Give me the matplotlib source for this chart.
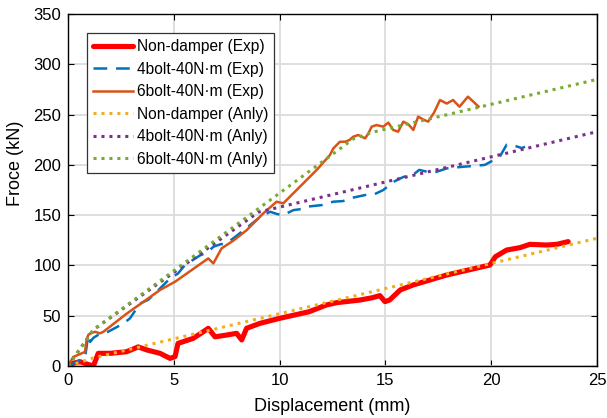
import matplotlib.pyplot as plt
import numpy as np

plt.rcParams["font.family"] = ["Liberation Sans", "DejaVu Sans"]

# ---- data ----
# Non-damper, experiment
nd_exp_x = [0, 0.3, 0.57, 0.88, 1.2, 1.43, 2.0, 2.77, 3.32, 3.72, 4.35, 4.82, 5.06, 5.2,
            5.92, 6.39, 6.63, 6.95, 7.5, 7.97, 8.21, 8.44, 9.07, 10.0, 11.4, 12.2, 12.7,
            13.8, 14.4, 14.74, 14.98, 15.2, 15.7, 16.3, 17.9, 19.94, 20.2, 20.73, 21.36,
            21.83, 22.62, 23.1, 23.64]
nd_exp_y = [1, 3, 4.3, 2, 0, 12.6, 12.6, 14.2, 19, 16, 12.6, 7.6, 9.3, 22.5,
            27.5, 34, 37.5, 29, 30.8, 32.5, 25.9, 37.5, 42.4, 47.4, 54, 60.6, 63,
            65.6, 68, 70, 64, 65.6, 75.6, 80.5, 90.5, 100.4, 108.7, 115.3, 117.7,
            121, 120.3, 121, 123.7]

# 4bolt-40N·m, experiment
b4_exp_x = [0, 0.3, 0.6, 0.8, 0.88, 0.95, 1.05, 1.2, 1.43, 1.8, 2.2, 2.6, 2.93, 3.4, 3.8,
            4.2, 4.82, 5.2, 5.53, 6.24, 6.6, 6.87, 7.2, 7.5, 8.0, 8.6, 9.07, 9.55, 9.9,
            10.17, 10.65, 11.0, 11.28, 11.99, 12.54, 13.0, 13.33, 14.04, 14.5, 14.9,
            15.37, 15.85, 16.3, 16.6, 17.0, 17.4, 17.9, 18.6, 19.2, 19.7, 20.4, 20.73,
            21.0, 21.2, 21.44, 21.6]
b4_exp_y = [0, 3, 6, 8, 19, 30, 24, 28, 31, 33, 37.5, 42, 47.4, 62, 66,
            74, 87, 92, 100.4, 110, 113, 118.6, 121, 122, 130, 140, 148, 153.4, 151,
            150, 155, 156, 158.4, 160, 163.4, 164, 166.8, 170, 171, 175,
            183, 188, 190, 195, 193, 193, 196.5, 198, 199, 200, 208, 220,
            219, 218.4, 216.7, 218]

# 6bolt-40N·m, experiment
b6_exp_x = [0, 0.25, 0.8, 0.88, 0.96, 1.12, 1.28, 1.51, 1.67, 2.77, 4.35, 5.06, 6.63,
            6.87, 7.26, 7.81, 8.44, 9.07, 9.23, 9.86, 10.17, 11.75, 12.38, 12.54,
            12.85, 13.09, 13.3, 13.48, 13.72, 14.04, 14.2, 14.35, 14.58, 14.9, 15.14,
            15.37, 15.6, 15.85, 16.1, 16.32, 16.55, 16.8, 17.02, 17.3, 17.58, 17.9,
            18.2, 18.5, 18.9, 19.15, 19.4]
b6_exp_y = [0, 9, 14, 26, 31, 33, 34, 32.5, 34, 52, 75.6, 83.8, 107,
            102, 117, 124.6, 135, 148.4, 151.8, 163.4, 161.7, 194.9, 209.8, 216.4,
            223, 223, 224.7, 228, 229.7, 226.4, 231.3, 238, 239.6, 238, 242,
            234.7, 233, 243, 240, 234.7, 248, 245, 243, 252, 264.5, 261,
            264.5, 257.8, 267.8, 263, 258]

# analytical models
nd_anl_x = [0, 1.2, 25]
nd_anl_y = [0, 8, 127]
b4_anl_x = [0, 1.2, 9.0, 25]
b4_anl_y = [0, 36, 153, 233]
b6_anl_x = [0, 1.2, 13.5, 14.5, 25]
b6_anl_y = [0, 36, 226, 233, 285]

x_ticks = [0, 5, 10, 15, 20, 25]
y_ticks = [0, 50, 100, 150, 200, 250, 300, 350]

# ---- figure ----
fig = plt.figure(figsize=(6.07, 4.18), dpi=100)
ax = fig.add_axes([0.112, 0.1244, 0.8715, 0.842])

ax.plot(nd_exp_x, nd_exp_y, color="#FF0000", lw=3.7, label="Non-damper (Exp)",
        solid_joinstyle="round", solid_capstyle="round")
ax.plot(b4_exp_x, b4_exp_y, color="#0072BD", lw=1.8, dashes=(5.5, 3.5),
        label="4bolt-40N·m (Exp)")
ax.plot(b6_exp_x, b6_exp_y, color="#D95319", lw=1.8, label="6bolt-40N·m (Exp)")
ax.plot(nd_anl_x, nd_anl_y, color="#EDB120", lw=2.2, dashes=(1, 1.6),
        label="Non-damper (Anly)")
ax.plot(b4_anl_x, b4_anl_y, color="#7E2F8E", lw=2.2, dashes=(1, 1.6),
        label="4bolt-40N·m (Anly)")
ax.plot(b6_anl_x, b6_anl_y, color="#77AC30", lw=2.2, dashes=(1, 1.6),
        label="6bolt-40N·m (Anly)")

ax.set_xlim(0, 25)
ax.set_ylim(0, 350)
ax.set_xticks(x_ticks)
ax.set_yticks(y_ticks)
ax.tick_params(direction="in", top=True, right=True, labelsize=12, length=4, pad=5)
ax.grid(True, color="#dcdcdc", lw=1.3)
ax.set_axisbelow(True)
for s in ax.spines.values():
    s.set_linewidth(1.0)

ax.set_xlabel("Displacement (mm)", fontsize=13)
ax.xaxis.set_label_coords(0.5, -0.092)
ax.set_ylabel("Froce (kN)", fontsize=13)
ax.yaxis.set_label_coords(-0.083, 0.577)

leg = ax.legend(loc="upper left", bbox_to_anchor=(0.036, 0.946), fontsize=11.2,
                handlelength=2.55, handletextpad=0.25, labelspacing=0.48,
                borderpad=0.4, borderaxespad=0, fancybox=False, framealpha=1,
                edgecolor="#333333")
leg.get_frame().set_linewidth(0.9)

plt.savefig("out.png", dpi=100)
